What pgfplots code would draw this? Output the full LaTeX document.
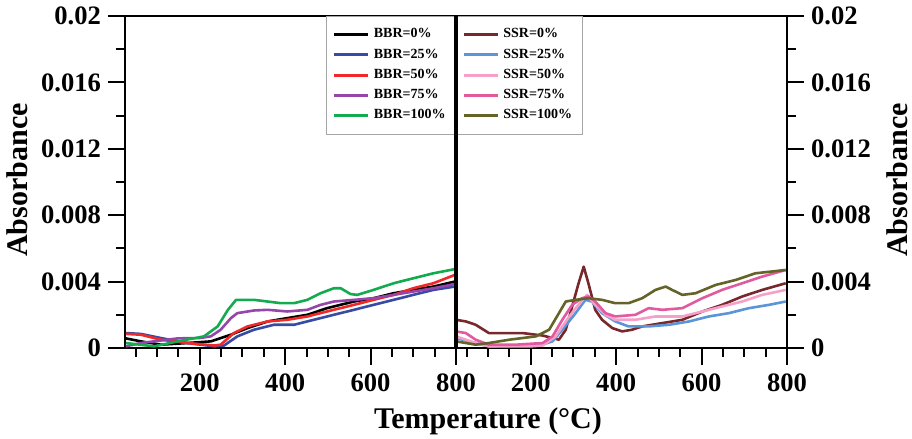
\documentclass[border=0pt]{standalone}
\usepackage{fontspec}
\setmainfont{Liberation Serif}
\usepackage{pgfplots}
\pgfplotsset{compat=1.18}

\definecolor{bbrA}{RGB}{0,0,0}
\definecolor{bbrB}{RGB}{55,75,165}
\definecolor{bbrC}{RGB}{240,40,40}
\definecolor{bbrD}{RGB}{150,70,170}
\definecolor{bbrE}{RGB}{20,170,80}
\definecolor{ssrA}{RGB}{120,40,45}
\definecolor{ssrB}{RGB}{90,150,215}
\definecolor{ssrC}{RGB}{245,160,200}
\definecolor{ssrD}{RGB}{225,90,160}
\definecolor{ssrE}{RGB}{100,100,40}

\pgfplotsset{
  panel/.style={
    scale only axis, width=165.5pt, height=166pt,
    xmin=25, xmax=800, ymin=0, ymax=0.02,
    xtick={200,400,600,800}, minor xtick={50,100,...,750},
    ytick={0,0.004,0.008,0.012,0.016,0.02},
    yticklabels={0,0.004,0.008,0.012,0.016,0.02},
    minor ytick={0.002,0.006,0.01,0.014,0.018},
    scaled y ticks=false,
    tick align=outside,
    major tick length=8.5pt, minor tick length=4.5pt,
    every tick/.style={black, line width=1pt},
    axis line style={line width=1pt},
    xtick pos=bottom,
    tick label style={font=\fontsize{13.3}{16}\selectfont\bfseries},
    x tick label style={yshift=-1pt},
    /pgf/number format/assume math mode=true,
    every axis plot/.append style={line width=1.3pt, line join=round},
    legend cell align=left,
    legend image code/.code={\draw[##1, line width=1.5pt] (0pt,0pt) -- (17pt,0pt);},
    legend style={draw=gray!70, line width=0.4pt,
      font=\fontsize{7}{8}\selectfont\bfseries,
      inner xsep=3pt, inner ysep=4pt, row sep=0pt},
  }
}

\begin{document}
\begin{tikzpicture}
\begin{axis}[panel, ytick pos=left,
    legend style={at={(1,1)}, anchor=north east}]
\addplot[bbrA] coordinates {(27,0.00058)(62,0.0004)(109,0.0002)(171,0.0003)(226,0.0004)(273,0.0008)(312,0.0012)(359,0.0016)(405,0.0018)(452,0.0020)(498,0.0024)(561,0.0028)(607,0.0030)(654,0.0033)(700,0.0035)(747,0.0037)(797,0.0040)};
\addlegendentry{BBR=0\%}
\addplot[bbrB] coordinates {(27,0.0009)(62,0.00085)(109,0.0006)(171,0.0003)(234,0.0001)(257,0.00015)(288,0.0007)(327,0.0011)(374,0.0014)(421,0.0014)(467,0.0017)(514,0.0020)(561,0.0023)(607,0.0026)(654,0.0029)(700,0.0032)(747,0.0035)(797,0.0037)};
\addlegendentry{BBR=25\%}
\addplot[bbrC] coordinates {(27,0.00085)(62,0.0008)(109,0.0005)(171,0.0003)(234,0.00015)(249,0.0002)(280,0.0009)(312,0.0013)(359,0.0016)(405,0.0017)(452,0.0019)(498,0.0022)(561,0.0026)(607,0.0029)(654,0.0032)(700,0.0036)(747,0.0039)(797,0.0044)};
\addlegendentry{BBR=50\%}
\addplot[bbrD] coordinates {(27,0.0001)(62,0.0003)(93,0.0004)(149,0.00058)(200,0.0006)(226,0.0007)(249,0.0011)(273,0.0018)(288,0.0021)(327,0.00226)(359,0.0023)(405,0.0022)(452,0.0023)(483,0.0026)(514,0.0028)(561,0.0029)(607,0.0030)(654,0.0032)(700,0.0034)(747,0.0036)(797,0.00385)};
\addlegendentry{BBR=75\%}
\addplot[bbrE] coordinates {(27,0.0003)(60,0.0002)(93,0.0001)(149,0.0004)(210,0.0007)(242,0.0013)(266,0.0023)(285,0.0029)(327,0.0029)(359,0.0028)(390,0.0027)(421,0.0027)(452,0.0029)(483,0.0033)(514,0.0036)(530,0.0036)(553,0.00325)(569,0.0032)(607,0.0035)(654,0.0039)(700,0.0042)(747,0.0045)(797,0.00475)};
\addlegendentry{BBR=100\%}
\end{axis}

\begin{axis}[panel, at={(165.5pt,0pt)}, anchor=south west,
    ytick pos=right, yticklabel pos=right,
    legend style={at={(0,1)}, anchor=north west}]
\addplot[ssrA] coordinates {(25,0.0017)(48,0.0016)(71,0.0014)(102,0.0009)(134,0.0009)(181,0.0009)(228,0.00075)(251,0.0006)(266,0.0005)(282,0.0011)(297,0.0025)(312,0.0039)(324,0.0049)(335,0.0039)(351,0.0023)(367,0.0017)(391,0.0012)(414,0.0010)(437,0.0011)(461,0.0013)(508,0.0015)(555,0.0017)(602,0.0022)(648,0.0026)(695,0.0031)(742,0.0035)(797,0.0039)};
\addlegendentry{SSR=0\%}
\addplot[ssrB] coordinates {(25,0.0006)(71,0.0003)(102,0.0001)(220,0.00015)(251,0.0004)(274,0.0011)(305,0.0021)(328,0.0029)(343,0.0028)(367,0.0021)(398,0.0016)(429,0.0013)(476,0.0013)(524,0.0014)(571,0.0016)(617,0.0019)(664,0.0021)(711,0.0024)(758,0.0026)(797,0.0028)};
\addlegendentry{SSR=25\%}
\addplot[ssrC] coordinates {(25,0.0007)(71,0.0003)(102,0.0001)(200,0.0001)(228,0.00015)(258,0.0007)(282,0.0016)(305,0.0024)(332,0.0032)(351,0.0026)(375,0.0020)(398,0.0017)(445,0.0017)(492,0.0019)(555,0.0019)(602,0.0022)(648,0.0025)(695,0.0028)(742,0.0032)(797,0.0035)};
\addlegendentry{SSR=50\%}
\addplot[ssrD] coordinates {(25,0.0010)(48,0.0009)(71,0.0005)(102,0.0002)(165,0.0002)(228,0.0003)(251,0.0007)(274,0.0017)(297,0.0026)(320,0.0030)(335,0.0031)(351,0.0028)(375,0.0021)(398,0.0019)(445,0.0020)(476,0.0024)(508,0.0023)(555,0.0024)(602,0.0030)(648,0.0035)(695,0.0039)(742,0.0043)(797,0.0047)};
\addlegendentry{SSR=75\%}
\addplot[ssrE] coordinates {(25,0.0004)(71,0.0002)(102,0.0003)(150,0.0005)(212,0.0007)(243,0.0011)(266,0.0021)(282,0.0028)(305,0.0029)(335,0.0030)(367,0.0029)(398,0.0027)(429,0.0027)(461,0.0030)(492,0.0035)(516,0.0037)(531,0.0035)(555,0.0032)(586,0.0033)(633,0.0038)(680,0.0041)(726,0.0045)(797,0.0047)};
\addlegendentry{SSR=100\%}
\end{axis}

\draw[line width=1.6pt] (165.5pt,0pt) -- (165.5pt,166pt);
\node[rotate=90, font=\fontsize{15}{18}\selectfont\bfseries] at (-54pt,84pt) {Absorbance};
\node[rotate=90, font=\fontsize{15}{18}\selectfont\bfseries] at (386pt,84pt) {Absorbance};
\node[anchor=base, font=\fontsize{15}{18}\selectfont\bfseries] at (181.5pt,-40.5pt) {Temperature (°C)};

\pgfresetboundingbox
\useasboundingbox (-62.5pt,-45.5pt) rectangle (393.5pt,174pt);
\end{tikzpicture}
\end{document}
